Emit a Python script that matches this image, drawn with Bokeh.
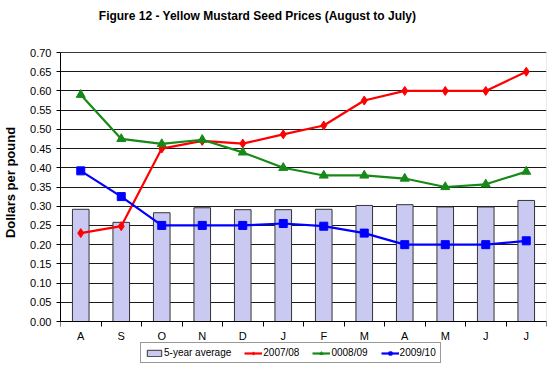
from bokeh.plotting import figure
from bokeh.models import (ColumnDataSource, FixedTicker, NumeralTickFormatter, Legend, LegendItem,
                          Range1d, BoxAnnotation, Label)
from bokeh.embed import file_html
from bokeh.resources import INLINE

months = ["A", "S", "O", "N", "D", "J", "F", "M", "A", "M", "J", "J"]
avg5 = [0.292, 0.258, 0.283, 0.296, 0.291, 0.291, 0.292, 0.302, 0.304, 0.298, 0.298, 0.315]
s0708 = [0.23, 0.248, 0.45, 0.47, 0.463, 0.487, 0.51, 0.575, 0.60, 0.60, 0.60, 0.65]
s0809 = [0.59, 0.475, 0.462, 0.473, 0.44, 0.40, 0.38, 0.38, 0.372, 0.35, 0.357, 0.39]
s0910 = [0.392, 0.325, 0.25, 0.25, 0.25, 0.255, 0.248, 0.23, 0.20, 0.20, 0.20, 0.21]
title_text = "Figure 12 - Yellow Mustard Seed Prices (August to July)"

x = [i + 0.5 for i in range(len(months))]
src = ColumnDataSource(dict(x=x, avg=avg5, a=s0708, b=s0809, c=s0910))

FONT = "Liberation Sans"

# plot area: 0.70 at 52px, 0.00 at 321px from the top of the figure
FH = 364
TOP = 52
BOT = 321
K = (BOT - TOP) / 0.70
y_top = 0.70 + TOP / K
y_bot = -(FH - BOT) / K

p = figure(frame_width=486, frame_height=FH, output_backend="svg", toolbar_location=None,
           x_range=Range1d(0, 12), y_range=Range1d(y_bot, y_top),
           min_border_left=54, min_border_right=1, min_border_top=0, min_border_bottom=0)

p.outline_line_color = None
p.background_fill_color = "white"
p.border_fill_color = "white"

p.add_layout(BoxAnnotation(left=0, right=12, bottom=0, top=0.70, fill_color=None,
                           line_color="#808080", line_width=1, level="underlay"))

bars = p.vbar(x="x", top="avg", width=0.41, source=src, fill_color="#c9c9f2",
              line_color="#333333", line_width=1)

r1l = p.line("x", "a", source=src, line_color="#ff0000", line_width=2.2)
r1m = p.scatter("x", "a", source=src, marker="diamond", size=9, fill_color="#ff0000", line_color="#ff0000")
r2l = p.line("x", "b", source=src, line_color="#168a16", line_width=2.2)
r2m = p.scatter("x", "b", source=src, marker="triangle", size=9, fill_color="#168a16", line_color="#168a16")
r3l = p.line("x", "c", source=src, line_color="#0000ff", line_width=2.2)
r3m = p.scatter("x", "c", source=src, marker="square", size=8, fill_color="#0000ff", line_color="#0000ff")

yt = [round(i * 0.05, 2) for i in range(15)]
p.yaxis.ticker = FixedTicker(ticks=yt)
p.yaxis.bounds = (0, 0.70)
p.yaxis.formatter = NumeralTickFormatter(format="0.00")
p.yaxis.axis_label = "Dollars per pound"
p.yaxis.axis_label_text_font = FONT
p.yaxis.axis_label_text_font_style = "bold"
p.yaxis.axis_label_text_font_size = "13px"
p.yaxis.axis_label_text_color = "black"
p.yaxis.axis_label_standoff = 9
p.yaxis.major_label_text_font = FONT
p.yaxis.major_label_text_font_size = "11px"
p.yaxis.major_label_text_color = "black"
p.yaxis.major_label_standoff = 5
p.yaxis.major_tick_in = 0
p.yaxis.major_tick_out = 4
p.yaxis.minor_tick_line_color = None
p.yaxis.axis_line_color = "black"
p.yaxis.major_tick_line_color = "black"

p.xaxis.fixed_location = 0
p.xaxis.ticker = FixedTicker(ticks=x, minor_ticks=list(range(13)))
p.xaxis.major_label_overrides = {xi: m for xi, m in zip(x, months)}
p.xaxis.major_label_text_font = FONT
p.xaxis.major_label_text_font_size = "11px"
p.xaxis.major_label_text_color = "black"
p.xaxis.major_label_standoff = 3
p.xaxis.major_tick_line_color = None
p.xaxis.major_tick_in = 0
p.xaxis.major_tick_out = 5
p.xaxis.minor_tick_in = 0
p.xaxis.minor_tick_out = 5
p.xaxis.minor_tick_line_color = "black"
p.xaxis.axis_line_color = "black"

p.xgrid.grid_line_color = None
p.ygrid.ticker = FixedTicker(ticks=yt)
p.ygrid.grid_line_color = "#1a1a1a"
p.ygrid.grid_line_width = 1

p.add_layout(Label(x=197, y=FH - 15, x_units="screen", y_units="screen", text=title_text,
                   text_font=FONT, text_font_size="12px", text_font_style="bold",
                   text_color="black", text_align="center", text_baseline="middle"))

legend = Legend(items=[
    LegendItem(label="5-year average", renderers=[bars]),
    LegendItem(label="2007/08", renderers=[r1l, r1m]),
    LegendItem(label="0008/09", renderers=[r2l, r2m]),
    LegendItem(label="2009/10", renderers=[r3l, r3m]),
], orientation="horizontal", location=(80, 1))
legend.label_text_font = FONT
legend.label_text_font_size = "10px"
legend.label_text_color = "black"
legend.label_standoff = 1
legend.glyph_width = 18
legend.glyph_height = 8
legend.spacing = 13
legend.padding = 4
legend.margin = 0
legend.border_line_color = "#333333"
legend.border_line_width = 1
legend.label_height = 10
legend.background_fill_color = "white"
p.add_layout(legend, "center")

open("out.html", "w").write(file_html(p, INLINE))
